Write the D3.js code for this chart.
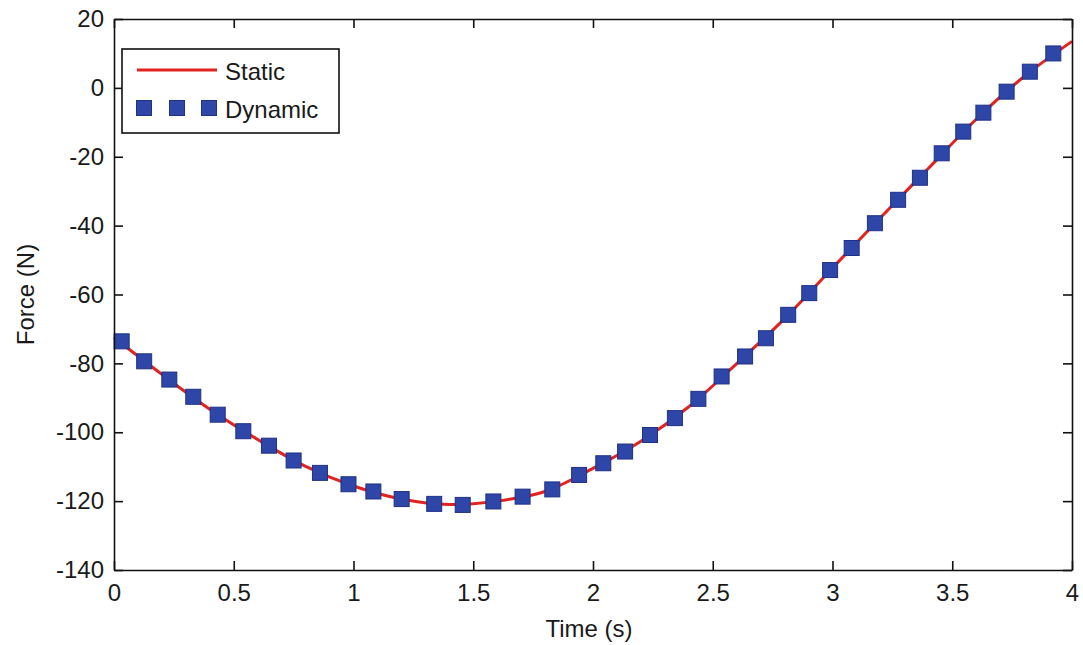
<!DOCTYPE html>
<html>
<head>
<meta charset="utf-8">
<script src="https://cdn.jsdelivr.net/npm/d3@7"></script>
<style>
  html, body { margin: 0; padding: 0; background: #fff; }
  svg { display: block; }
  text { font-family: "Liberation Sans", Arial, sans-serif; fill: #1a1a1a; }
</style>
</head>
<body>
<svg id="chart" width="1083" height="645"></svg>
<script>
// Static solution: force (N) sampled along time (s)
const staticTime  = [0, 0.2, 0.4, 0.6, 0.8, 1.0, 1.2, 1.4, 1.6, 1.8, 2.0, 2.2, 2.4, 2.6, 2.8, 3.0, 3.2, 3.4, 3.6, 3.8, 4.0];
const staticForce = [-72.5, -83.2, -93.3, -102.1, -109.9, -115.6, -119.4, -121.0, -120.0, -117.2, -110.5, -102.6, -92.6, -80.1, -67.0, -52.3, -37.7, -23.4, -9.1, 3.3, 13.5];

// Dynamic solution: marker samples
const dynamicTime  = [0.032, 0.126, 0.231, 0.331, 0.433, 0.540, 0.647, 0.750, 0.860, 0.979,
                      1.083, 1.201, 1.337, 1.456, 1.584, 1.706, 1.830, 1.942, 2.043, 2.134,
                      2.238, 2.342, 2.440, 2.537, 2.635, 2.722, 2.815, 2.903, 2.990, 3.080,
                      3.177, 3.274, 3.365, 3.456, 3.546, 3.630, 3.727, 3.824, 3.922];
const dynamicForce = [-73.6, -79.4, -84.7, -89.7, -94.9, -99.7, -103.9, -108.2, -111.8, -115.1,
                      -117.2, -119.4, -120.8, -121.1, -120.1, -118.7, -116.6, -112.4, -109.0, -105.6,
                      -100.8, -95.9, -90.3, -83.8, -78.0, -72.7, -65.9, -59.6, -52.9, -46.5,
                      -39.3, -32.5, -26.1, -19.0, -12.7, -7.2, -1.1, 4.7, 10.0];

const xTicks = [0, 0.5, 1, 1.5, 2, 2.5, 3, 3.5, 4];
const yTicks = [20, 0, -20, -40, -60, -80, -100, -120, -140];
const seriesNames = ["Static", "Dynamic"];

const svg = d3.select("#chart");
const margin = { left: 114, right: 11, top: 19, bottom: 75 };
const W = 1083, H = 645;

const x = d3.scaleLinear().domain([0, 4]).range([margin.left, W - margin.right]);
const y = d3.scaleLinear().domain([-140, 20]).range([H - margin.bottom, margin.top]);

const RED = "#e3231f";
const BLUE = "#2d46a8";
const BLUE_EDGE = "#1f3088";
const fmt = d => String(d);   // plain hyphen-minus, as the plotting tool prints

const staticData = staticTime.map((t, i) => ({ t, f: staticForce[i] }));
const dynamicData = dynamicTime.map((t, i) => ({ t, f: dynamicForce[i] }));

// Static curve
svg.append("path")
  .datum(staticData)
  .attr("fill", "none")
  .attr("stroke", RED)
  .attr("stroke-width", 3)
  .attr("d", d3.line().x(d => x(d.t)).y(d => y(d.f)).curve(d3.curveCatmullRom));

// Dynamic markers
const ms = 15;
svg.append("g").selectAll("rect")
  .data(dynamicData)
  .join("rect")
  .attr("x", d => x(d.t) - ms / 2)
  .attr("y", d => y(d.f) - ms / 2)
  .attr("width", ms)
  .attr("height", ms)
  .attr("fill", BLUE)
  .attr("stroke", BLUE_EDGE)
  .attr("stroke-width", 1);

// Axes with inward ticks on all four sides
const tickLen = 9;
const fontSize = 24;

const xAxisB = svg.append("g").attr("transform", `translate(0,${y(-140)})`)
  .call(d3.axisBottom(x).tickValues(xTicks).tickSizeInner(-tickLen).tickSizeOuter(0).tickPadding(14).tickFormat(fmt));
const xAxisT = svg.append("g").attr("transform", `translate(0,${y(20)})`)
  .call(d3.axisTop(x).tickValues(xTicks).tickSizeInner(-tickLen).tickSizeOuter(0).tickFormat(""));
const yAxisL = svg.append("g").attr("transform", `translate(${x(0)},0)`)
  .call(d3.axisLeft(y).tickValues(yTicks).tickSizeInner(-tickLen).tickSizeOuter(0).tickPadding(10).tickFormat(fmt));
const yAxisR = svg.append("g").attr("transform", `translate(${x(4)},0)`)
  .call(d3.axisRight(y).tickValues(yTicks).tickSizeInner(-tickLen).tickSizeOuter(0).tickFormat(""));

[xAxisB, xAxisT, yAxisL, yAxisR].forEach(g => {
  g.selectAll("path.domain").attr("stroke", "#111").attr("stroke-width", 1.6);
  g.selectAll(".tick line").attr("stroke", "#111").attr("stroke-width", 1.6);
  g.selectAll(".tick text")
    .style("font-family", "'Liberation Sans', Arial, sans-serif")
    .style("font-size", fontSize + "px")
    .attr("fill", "#1a1a1a");
});

// Axis titles
svg.append("text")
  .attr("x", (x(0) + x(4)) / 2 - 4)
  .attr("y", 637)
  .attr("text-anchor", "middle")
  .style("font-size", fontSize + "px")
  .text("Time (s)");

svg.append("text")
  .attr("transform", `translate(34,${(y(20) + y(-140)) / 2}) rotate(-90)`)
  .attr("text-anchor", "middle")
  .style("font-size", fontSize + "px")
  .text("Force (N)");

// Legend
const lg = svg.append("g");
lg.append("rect")
  .attr("x", 122).attr("y", 49).attr("width", 217).attr("height", 84)
  .attr("fill", "#fff").attr("stroke", "#111").attr("stroke-width", 1.6);

lg.append("line")
  .attr("x1", 137).attr("x2", 217).attr("y1", 70).attr("y2", 70)
  .attr("stroke", RED).attr("stroke-width", 3);
lg.append("text").attr("x", 225).attr("y", 80)
  .style("font-size", fontSize + "px").text(seriesNames[0]);

lg.selectAll("rect.sw")
  .data([144, 177, 209])
  .join("rect")
  .attr("class", "sw")
  .attr("x", d => d - ms / 2).attr("y", 108 - ms / 2)
  .attr("width", ms).attr("height", ms)
  .attr("fill", BLUE).attr("stroke", BLUE_EDGE).attr("stroke-width", 1);
lg.append("text").attr("x", 225).attr("y", 118)
  .style("font-size", fontSize + "px").text(seriesNames[1]);
</script>
</body>
</html>
